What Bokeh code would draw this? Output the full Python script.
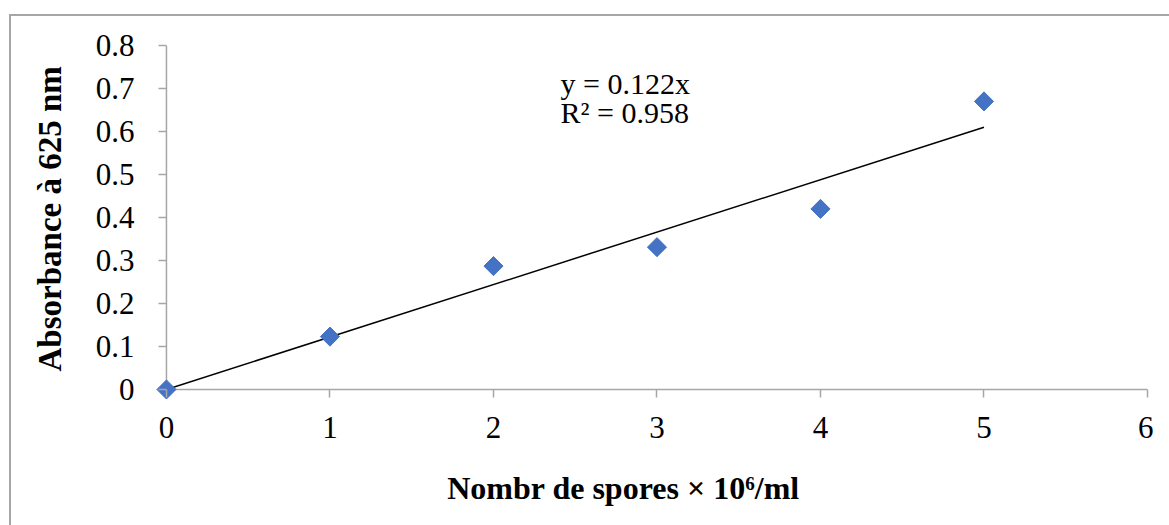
from bokeh.plotting import figure
from bokeh.models import Range1d, FixedTicker, Label, ColumnDataSource, InlineStyleSheet
from bokeh.embed import file_html
from bokeh.resources import INLINE
import numpy as np

# ---- data ----
spores = [0, 1, 2, 3, 4, 5]
absorbance = [0.0, 0.123, 0.287, 0.331, 0.42, 0.67]
slope = 0.122
r2 = 0.958
x_ticks = [0, 1, 2, 3, 4, 5, 6]
y_ticks = [0, 0.1, 0.2, 0.3, 0.4, 0.5, 0.6, 0.7, 0.8]
y_tick_labels = ["0", "0.1", "0.2", "0.3", "0.4", "0.5", "0.6", "0.7", "0.8"]
x_title = "Nombr de spores × 10⁶/ml"
y_title = "Absorbance à 625 nm"
eq_text = "y = 0.122x"
r2_text = "R² = 0.958"

FONT = "Liberation Serif"
TICK_FS = "31px"
AXIS_COLOR = "#a6a6a6"

# ranges padded slightly below 0 so the marker at the origin is not clipped
p = figure(width=1153, height=509, output_backend="svg", toolbar_location=None,
           x_range=Range1d(-0.067, 6), y_range=Range1d(-0.0256, 0.8),
           min_border_left=155, min_border_right=6, min_border_top=45, min_border_bottom=109)
p.outline_line_color = None
p.xgrid.visible = False
p.ygrid.visible = False
p.background_fill_color = "white"
p.border_fill_color = "white"

for ax in (p.xaxis[0], p.yaxis[0]):
    ax.axis_line_color = None
    ax.major_tick_line_color = AXIS_COLOR
    ax.major_tick_line_width = 1.5
    ax.major_tick_in = 11
    ax.major_tick_out = -3
    ax.minor_tick_line_color = None
    ax.major_label_text_font = FONT
    ax.major_label_text_font_size = TICK_FS
    ax.major_label_text_color = "black"
    ax.axis_label_text_font = FONT
    ax.axis_label_text_font_style = "bold"
    ax.axis_label_text_color = "black"

p.xaxis[0].ticker = FixedTicker(ticks=x_ticks)
p.yaxis[0].ticker = FixedTicker(ticks=y_ticks)
p.yaxis[0].major_label_overrides = dict(zip(y_ticks, y_tick_labels))
p.xaxis[0].major_label_standoff = 16
p.yaxis[0].major_label_standoff = 21
# reference titles sit slightly off the plot centre: pad with no-break spaces
p.yaxis[0].axis_label = "\u00a0" + y_title
p.yaxis[0].axis_label_text_font_size = "33px"
p.yaxis[0].axis_label_standoff = 25
p.xaxis[0].axis_label = x_title + "\u00a0" * 7
p.xaxis[0].axis_label_text_font_size = "32px"
p.xaxis[0].axis_label_standoff = 29

# axis lines at x=0 and y=0
p.segment(x0=[x_ticks[0], x_ticks[0]], y0=[y_ticks[0], y_ticks[0]],
          x1=[x_ticks[-1], x_ticks[0]], y1=[y_ticks[0], y_ticks[-1]],
          line_color=AXIS_COLOR, line_width=1.5)

# trendline (regression through origin)
trend_x = [spores[0], spores[-1]]
trend_y = [slope * v for v in trend_x]
p.line(trend_x, trend_y, line_color="black", line_width=1.5)

src = ColumnDataSource(dict(x=spores, y=absorbance))
p.scatter("x", "y", source=src, marker="square", angle=np.pi / 4, size=13.5,
          fill_color="#4472C4", line_color="#4472C4")

p.add_layout(Label(x=2.41, y=0.711, text=eq_text, text_font=FONT, text_font_size="30px",
                   text_baseline="middle", text_color="black"))
p.add_layout(Label(x=2.41, y=0.644, text=r2_text, text_font=FONT, text_font_size="30px",
                   text_baseline="middle", text_color="black"))

# outer chart border (cropped at right/bottom in the reference)
p.stylesheets = [InlineStyleSheet(css="""
:host { position: relative; }
:host::after {
  content: ""; position: absolute; left: 9px; top: 14px; right: -50px; bottom: -50px;
  border-left: 2px solid #a6a6a6; border-top: 2px solid #a6a6a6;
  pointer-events: none; z-index: 100;
}
""")]

open("out.html", "w").write(file_html(p, INLINE))
